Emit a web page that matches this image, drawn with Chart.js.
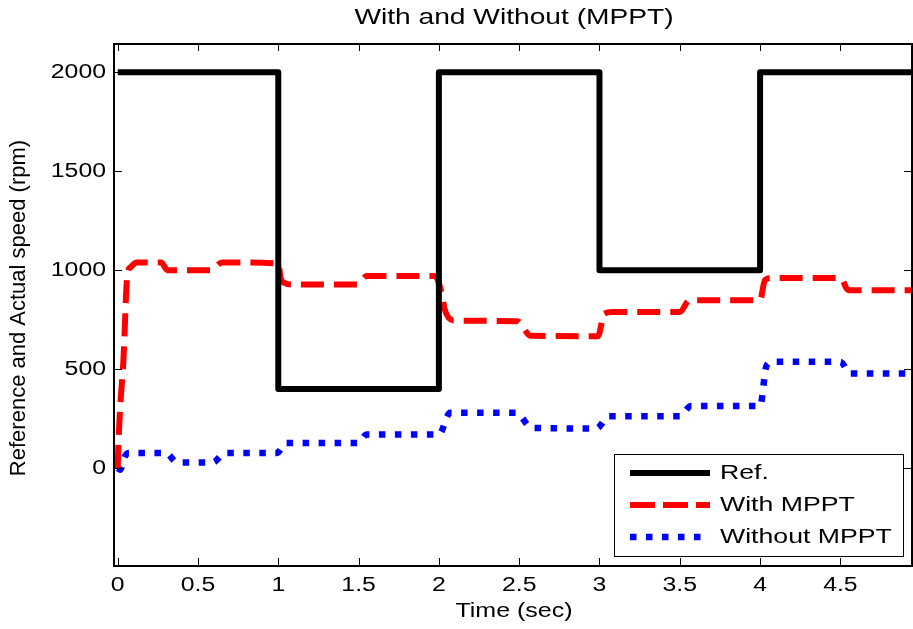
<!DOCTYPE html>
<html>
<head>
<meta charset="utf-8">
<script src="https://cdn.jsdelivr.net/npm/chart.js@4/dist/chart.umd.min.js"></script>
<style>
  body { margin: 0; background: #fff; }
  #wrap { width: 913px; height: 629px; }
</style>
</head>
<body>
<div id="wrap"><canvas id="grafico" width="913" height="629"></canvas></div>
<script>
// datos
const refTime = [0, 1, 1, 2, 2, 3, 3, 4, 4, 4.95];
const refSpeed = [2000, 2000, 400, 400, 2000, 2000, 1000, 1000, 2000, 2000];

const mpptTime = [0, 0.005, 0.015, 0.035, 0.06, 0.08, 0.12, 0.27, 0.31, 0.58, 0.65, 1.0, 1.015, 1.04, 1.09, 1.49, 1.55, 1.975, 2.02, 2.035, 2.09, 2.49, 2.57, 2.99, 3.03, 3.08, 3.5, 3.56, 4.0, 4.03, 4.08, 4.5, 4.55, 4.95];
const mpptSpeed = [0, 130, 300, 535, 975, 1015, 1039, 1039, 1000, 1000, 1039, 1034, 960, 935, 927, 927, 970, 970, 873, 805, 746, 742, 669, 666, 780, 788, 788, 848, 848, 950, 961, 961, 899, 899];

const noMpptTime = [0, 0.014, 0.045, 0.07, 0.3, 0.37, 0.59, 0.67, 0.99, 1.05, 1.5, 1.55, 2.0, 2.07, 2.48, 2.58, 2.98, 3.06, 3.5, 3.57, 4.0, 4.04, 4.08, 4.5, 4.56, 4.95];
const noMpptSpeed = [0, -8, 59, 76, 76, 28, 28, 76, 76, 127, 127, 169, 169, 279, 279, 203, 200, 262, 262, 313, 313, 517, 537, 537, 478, 478];

const xTicks = [0, 0.5, 1, 1.5, 2, 2.5, 3, 3.5, 4, 4.5];
const yTicks = [0, 500, 1000, 1500, 2000];
const etiquetas = ['Ref.', 'With MPPT', 'Without MPPT'];

const fuente = '"Liberation Sans", Arial, sans-serif';

const puntos = (xs, ys) => xs.map((x, i) => ({ x: x, y: ys[i] }));

// texto ensanchado horizontalmente como en la figura original
function texto(ctx, txt, x, y, align, size, sx) {
    ctx.save();
    ctx.translate(x, y);
    ctx.scale(sx, 1);
    ctx.font = size + 'px ' + fuente;
    ctx.fillStyle = '#000';
    ctx.textAlign = align;
    ctx.textBaseline = 'middle';
    ctx.fillText(txt, 0, 0);
    ctx.restore();
}

const ejesMatlab = {
    id: 'ejesMatlab',
    afterDatasetsDraw(chart) {
        const ctx = chart.ctx;
        const a = chart.chartArea;
        const sx = chart.scales.x;
        const sy = chart.scales.y;

        // marco y marcas hacia dentro
        ctx.save();
        ctx.strokeStyle = '#000';
        ctx.lineWidth = 1;
        ctx.beginPath();
        xTicks.forEach(v => {
            const px = Math.round(sx.getPixelForValue(v)) + 0.5;
            ctx.moveTo(px, a.bottom); ctx.lineTo(px, a.bottom - 8);
            ctx.moveTo(px, a.top); ctx.lineTo(px, a.top + 7);
        });
        yTicks.forEach(v => {
            const py = Math.round(sy.getPixelForValue(v)) + 0.5;
            ctx.moveTo(a.left, py); ctx.lineTo(a.left + 8, py);
            ctx.moveTo(a.right, py); ctx.lineTo(a.right - 8, py);
        });
        ctx.stroke();
        ctx.lineWidth = 2;
        ctx.strokeRect(a.left, a.top, a.right - a.left, a.bottom - a.top);
        ctx.restore();

        xTicks.forEach(v => texto(ctx, String(v), sx.getPixelForValue(v), 585, 'center', 20, 1.24));
        yTicks.forEach(v => texto(ctx, String(v), 106, sy.getPixelForValue(v), 'right', 20, 1.24));

        texto(ctx, 'With and Without (MPPT)', 514, 18, 'center', 22, 1.28);
        texto(ctx, 'Time (sec)', 514, 611, 'center', 20, 1.25);

        ctx.save();
        ctx.translate(19, 308);
        ctx.rotate(-Math.PI / 2);
        ctx.font = '22px ' + fuente;
        ctx.fillStyle = '#000';
        ctx.textAlign = 'center';
        ctx.textBaseline = 'middle';
        ctx.fillText('Reference and Actual speed (rpm)', 0, 0);
        ctx.restore();

        // leyenda
        ctx.save();
        ctx.fillStyle = '#fff';
        ctx.fillRect(614, 454, 289, 102);
        ctx.strokeStyle = '#000';
        ctx.lineWidth = 1;
        ctx.strokeRect(614.5, 454.5, 289, 102);
        const filas = [473, 505, 537];
        chart.data.datasets.forEach((ds, i) => {
            ctx.save();
            ctx.strokeStyle = ds.borderColor;
            ctx.lineWidth = ds.borderWidth;
            ctx.lineCap = 'butt';
            ctx.setLineDash(i === 1 ? [25, 8] : (ds.borderDash || []));
            ctx.beginPath();
            ctx.moveTo(630, filas[i]);
            ctx.lineTo(710, filas[i]);
            ctx.stroke();
            ctx.restore();
            texto(ctx, ds.label, 720, filas[i], 'left', 21, 1.27);
        });
        ctx.restore();
    }
};

new Chart(document.getElementById('grafico'), {
    type: 'line',
    data: {
        datasets: [
            {
                label: etiquetas[0],
                data: puntos(refTime, refSpeed),
                borderColor: '#000000',
                borderWidth: 6,
                borderJoinStyle: 'round',
                tension: 0,
                pointRadius: 0
            },
            {
                label: etiquetas[1],
                data: puntos(mpptTime, mpptSpeed),
                borderColor: '#ff0000',
                borderWidth: 6,
                borderDash: [23, 10],
                borderCapStyle: 'butt',
                borderJoinStyle: 'round',
                cubicInterpolationMode: 'monotone',
                pointRadius: 0
            },
            {
                label: etiquetas[2],
                data: puntos(noMpptTime, noMpptSpeed),
                borderColor: '#0000ff',
                borderWidth: 6.5,
                borderDash: [6.5, 9.5],
                borderCapStyle: 'butt',
                borderJoinStyle: 'round',
                cubicInterpolationMode: 'monotone',
                pointRadius: 0
            }
        ]
    },
    options: {
        responsive: false,
        animation: false,
        layout: { padding: { left: 114, top: 44, right: 1, bottom: 63 } },
        plugins: {
            legend: { display: false },
            tooltip: { enabled: false }
        },
        scales: {
            x: { type: 'linear', min: -0.023, max: 4.946, display: false },
            y: { type: 'linear', min: -495, max: 2143, display: false }
        }
    },
    plugins: [ejesMatlab]
});
</script>
</body>
</html>
